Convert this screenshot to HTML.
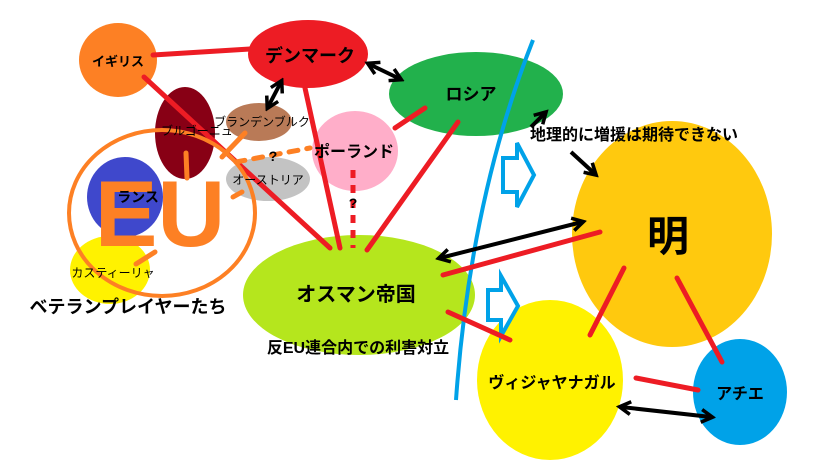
<!DOCTYPE html>
<html><head><meta charset="utf-8"><style>
body{margin:0;background:#fff;}
svg{display:block;font-family:"Liberation Sans","Noto Sans CJK JP",sans-serif;}
</style></head><body>
<svg width="819" height="460" viewBox="0 0 819 460" xmlns="http://www.w3.org/2000/svg">
<defs>
<marker id="ah" viewBox="0 0 10 10" refX="7" refY="5" markerWidth="4" markerHeight="4" orient="auto-start-reverse">
<path d="M1,1 L8,5 L1,9" fill="none" stroke="#000" stroke-width="2.2"/>
</marker>
</defs>
<ellipse cx="118" cy="60" rx="39" ry="37" fill="#fd8024"/>
<ellipse cx="308" cy="54" rx="60" ry="34" fill="#ed1c24"/>
<ellipse cx="476" cy="94" rx="87" ry="42" fill="#22b14c"/>
<ellipse cx="185" cy="133" rx="30" ry="46" fill="#880015"/>
<ellipse cx="259" cy="122" rx="33" ry="19" fill="#b97a57"/>
<ellipse cx="268" cy="179" rx="42" ry="22" fill="#c3c3c3"/>
<ellipse cx="355" cy="151" rx="43" ry="40" fill="#ffaec9"/>
<ellipse cx="125" cy="197" rx="38" ry="40" fill="#3f48cc"/>
<ellipse cx="110" cy="270" rx="40" ry="34" fill="#fff200"/>
<ellipse cx="359" cy="295" rx="116" ry="60" fill="#b5e61d"/>
<ellipse cx="672" cy="234" rx="100" ry="113" fill="#ffc90e"/>
<ellipse cx="550" cy="380" rx="73" ry="80" fill="#fff200"/>
<ellipse cx="740" cy="392" rx="47" ry="53" fill="#00a2e8"/>
<path d="M533,40 Q470,200 456,400" fill="none" stroke="#00a2e8" stroke-width="4"/>
<path d="M503,158 L517,158 L517,143 L534,175 L517,207 L517,192 L503,192 Z" fill="#fff" stroke="#00a2e8" stroke-width="4"/>
<path d="M488,290 L501,290 L501,276 L518,306 L501,336 L501,320 L488,320 Z" fill="#fff" stroke="#00a2e8" stroke-width="4"/>
<g stroke="#ed1c24" stroke-width="5" stroke-linecap="round">
<line x1="153" y1="55" x2="250" y2="49"/>
<line x1="144" y1="77" x2="330" y2="248"/>
<line x1="305" y1="88" x2="340" y2="248"/>
<line x1="458" y1="122" x2="367" y2="250"/>
<line x1="395" y1="128" x2="425" y2="108"/>
<line x1="443" y1="275" x2="600" y2="232"/>
<line x1="448" y1="312" x2="510" y2="340"/>
<line x1="624" y1="268" x2="590" y2="335"/>
<line x1="677" y1="278" x2="722" y2="362"/>
<line x1="636" y1="378" x2="698" y2="390"/>
<line x1="353" y1="170" x2="353" y2="248" stroke-dasharray="8,7" stroke-linecap="butt"/>
</g>
<g stroke="#fd8024" stroke-width="5" stroke-linecap="round">
<line x1="186" y1="153" x2="187" y2="178"/>
<line x1="245" y1="133" x2="222" y2="157"/>
<line x1="236" y1="162" x2="310" y2="148" stroke-dasharray="9,9"/>
<line x1="233" y1="197" x2="242" y2="192"/>
<line x1="155" y1="252" x2="136" y2="264"/>
</g>
<ellipse cx="162" cy="213" rx="93" ry="83" fill="none" stroke="#fd8024" stroke-width="4"/>
<text x="160" y="246" font-size="94" font-weight="bold" fill="#fd8024" text-anchor="middle" font-family="Liberation Sans,sans-serif">EU</text>
<g stroke="#000" stroke-width="4" fill="none" marker-start="url(#ah)" marker-end="url(#ah)">
<line x1="369" y1="64" x2="400" y2="79"/>
<line x1="281" y1="82" x2="268" y2="107"/>
<line x1="440" y1="258" x2="582" y2="222"/>
<line x1="621" y1="407" x2="711" y2="417"/>
</g>
<g stroke="#000" stroke-width="4" fill="none">
<line x1="545" y1="113" x2="531" y2="127" marker-start="url(#ah)"/>
<line x1="571" y1="152" x2="595" y2="174" marker-end="url(#ah)"/>
</g>
<g fill="#000" font-family="Liberation Sans,Noto Sans CJK JP,sans-serif">
<text x="118" y="66" font-size="13" font-weight="bold" text-anchor="middle">イギリス</text>
<text x="310" y="62" font-size="18" font-weight="bold" text-anchor="middle">デンマーク</text>
<text x="471" y="100" font-size="17" font-weight="bold" text-anchor="middle">ロシア</text>
<text x="161" y="135" font-size="12">ブルゴーニュ</text>
<text x="262" y="126" font-size="12" text-anchor="middle">ブランデンブルク</text>
<text x="268" y="184" font-size="12" text-anchor="middle">オーストリア</text>
<text x="354" y="157" font-size="16" font-weight="bold" text-anchor="middle">ポーランド</text>
<text x="138" y="202" font-size="14" font-weight="bold" text-anchor="middle">ランス</text>
<text x="113" y="277" font-size="12" text-anchor="middle">カスティーリャ</text>
<text x="128" y="313" font-size="18" font-weight="bold" text-anchor="middle">ベテランプレイヤーたち</text>
<text x="356" y="301" font-size="20" font-weight="bold" text-anchor="middle">オスマン帝国</text>
<text x="358" y="353" font-size="16" font-weight="bold" text-anchor="middle">反EU連合内での利害対立</text>
<text x="634" y="140" font-size="16" font-weight="bold" text-anchor="middle">地理的に増援は期待できない</text>
<text x="668" y="251" font-size="42" font-weight="bold" text-anchor="middle">明</text>
<text x="552" y="388" font-size="16" font-weight="bold" text-anchor="middle">ヴィジャヤナガル</text>
<text x="740" y="399" font-size="16" font-weight="bold" text-anchor="middle">アチエ</text>
<text x="273" y="161" font-size="14" font-weight="bold" text-anchor="middle">?</text>
<text x="353" y="208" font-size="14" font-weight="bold" text-anchor="middle">?</text>
</g>
</svg>
</body></html>
